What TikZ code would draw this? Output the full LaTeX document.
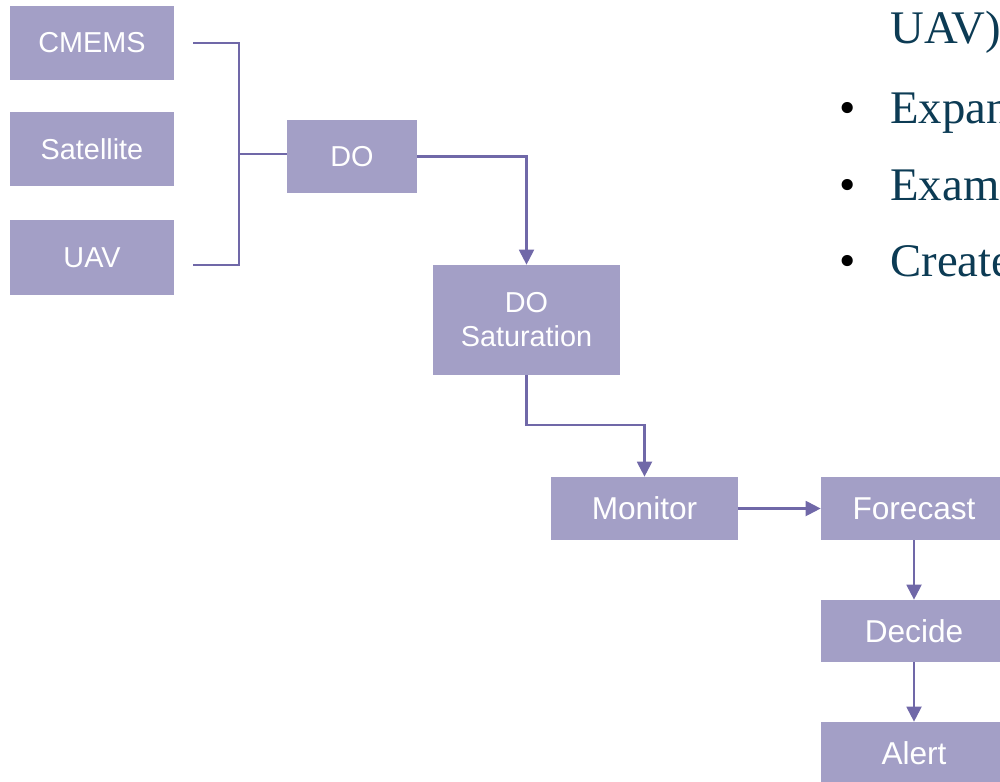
\documentclass[tikz,border=0pt]{standalone}
\usepackage{fontspec}
\setmainfont{Liberation Serif}
\newfontfamily\boxfont{Liberation Sans}
\usetikzlibrary{arrows.meta}
\definecolor{boxfill}{RGB}{163,159,198}
\definecolor{linecol}{RGB}{112,104,168}
\definecolor{bullettext}{RGB}{12,59,84}
\tikzset{
  pbox/.style={fill=boxfill, draw=none, inner sep=0pt, text=white, align=center,
    font=\boxfont\fontsize{16.4pt}{19.3pt}\selectfont},
  bigbox/.style={pbox, font=\boxfont\fontsize{18pt}{21pt}\selectfont},
  conn/.style={draw=linecol, line width=1.2pt},
  arr/.style={conn, -{Triangle[width=8.5pt,length=8.5pt]}},
  btext/.style={anchor=base west, inner sep=0pt, text=bullettext, font=\fontsize{26.6pt}{30pt}\selectfont},
  bdot/.style={anchor=base, inner sep=0pt, text=black, font=\fontsize{26.6pt}{30pt}\selectfont}
}
\begin{document}
\begin{tikzpicture}[x=0.02cm, y=-0.02cm]
\useasboundingbox (0,0) rectangle (1000,781);
\clip (0,0) rectangle (1000,781);
% boxes
\node[pbox, minimum width=164*0.02cm, minimum height=74*0.02cm] (cmems) at (92,43) {CMEMS};
\node[pbox, minimum width=164*0.02cm, minimum height=74*0.02cm] (sat) at (92,149) {Satellite};
\node[pbox, minimum width=164*0.02cm, minimum height=75*0.02cm] (uav) at (92,257.5) {UAV};
\node[pbox, minimum width=130*0.02cm, minimum height=73*0.02cm] (do) at (352,156.5) {DO};
\node[pbox, minimum width=187*0.02cm, minimum height=110*0.02cm] (dosat) at (526.5,320) {DO\\Saturation};
\node[bigbox, minimum width=187*0.02cm, minimum height=63*0.02cm] (mon) at (644.5,508.5) {Monitor};
\node[bigbox, minimum width=186*0.02cm, minimum height=63*0.02cm] (fc) at (914,508.5) {Forecast};
\node[bigbox, minimum width=186*0.02cm, minimum height=62*0.02cm] (dec) at (914,631) {Decide};
\node[bigbox, minimum width=186*0.02cm, minimum height=63*0.02cm] (alert) at (914,753.5) {Alert};
% connectors
\coordinate (cA) at (193,43);
\coordinate (cB) at (193,265);
\coordinate (j) at (239,154);
\draw[conn] (cA) -| (j);
\draw[conn] (cB) -| (j);
\draw[conn] (j) -- (j -| do.west);
\draw[arr] (do.east) -| (dosat.north);
\draw[arr] (dosat.south) -- ++(0,50) -| (mon.north);
\draw[arr] (mon.east) -- (fc.west);
\draw[arr] (fc.south) -- (dec.north);
\draw[arr] (dec.south) -- (alert.north);
% bullet text at right
\node[btext] (t0) at (890,43) {UAV)};
\node[bdot] (b1) at (848,123) {•};
\node[btext] (t1) at (890,123) {Expan};
\node[bdot] (b2) at (848,200) {•};
\node[btext] (t2) at (890,200) {Exam};
\node[bdot] (b3) at (848,276) {•};
\node[btext] (t3) at (890,276) {Create};
\end{tikzpicture}
\end{document}
